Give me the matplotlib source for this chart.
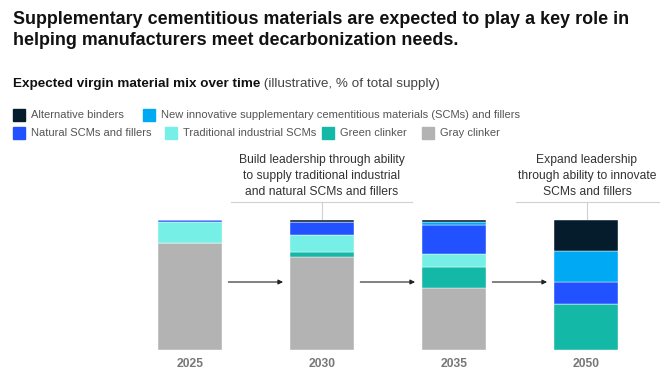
import matplotlib
matplotlib.use("Agg")
import matplotlib.pyplot as plt

# ---- data ----
years = ["2025", "2030", "2035", "2050"]
series_names = ["Gray clinker", "Green clinker", "Traditional industrial SCMs",
                "Natural SCMs and fillers",
                "New innovative supplementary cementitious materials (SCMs) and fillers",
                "Alternative binders"]
gray_clinker = [82, 71.5, 48, 0]
green_clinker = [0, 4, 16, 35.5]
traditional_scms = [16.5, 13, 10, 0]
natural_scms = [1.5, 10, 22, 17]
new_scms = [0, 0, 2.5, 23.5]
alternative_binders = [0, 1.5, 1.5, 24]
series_values = [gray_clinker, green_clinker, traditional_scms, natural_scms,
                 new_scms, alternative_binders]
colors = ["#B3B3B3", "#14B8A6", "#76F0E6", "#2251FF", "#00A9F4", "#051C2C"]

title = ("Supplementary cementitious materials are expected to play a key role in\n"
         "helping manufacturers meet decarbonization needs.")
subtitle_bold = "Expected virgin material mix over time"
subtitle_reg = " (illustrative, % of total supply)"
note1 = "Build leadership through ability\nto supply traditional industrial\nand natural SCMs and fillers"
note2 = "Expand leadership\nthrough ability to innovate\nSCMs and fillers"

plt.rcParams['font.family'] = ['Liberation Sans', 'DejaVu Sans']

W, H = 665, 379
fig = plt.figure(figsize=(W / 100, H / 100), dpi=100)

def fx(x):
    return x / W

def fy(y):
    return 1 - y / H

# axes: x from 124 to 652 px, y from 350 (0) to 220 (100)
ax = fig.add_axes([fx(124), fy(350), (652 - 124) / W, 130 / H])
ax.set_xlim(-0.5, 3.5)
ax.set_ylim(0, 100)
ax.axis("off")

xpos = list(range(len(years)))
bottom = [0] * len(years)
for vals, c in zip(series_values, colors):
    ax.bar(xpos, vals, bottom=bottom, width=0.49, color=c, edgecolor="white",
           linewidth=0.3)
    bottom = [b + v for b, v in zip(bottom, vals)]

# year labels
for i, yr in enumerate(years):
    ax.text(i, -11, yr, ha="center", va="center", fontsize=8.7,
            fontweight="bold", color="#777777", clip_on=False)

# arrows between bars
for i in range(len(years) - 1):
    ax.annotate("", xy=(i + 0.705, 52.3), xytext=(i + 0.29, 52.3),
                arrowprops=dict(arrowstyle="-|>", color="#222222", lw=0.8,
                                mutation_scale=7, shrinkA=0, shrinkB=0),
                annotation_clip=False)

# annotation brackets
def bracket(x0, x1, xc, text):
    fig.add_artist(plt.Line2D([fx(x0), fx(x1)], [fy(202.3), fy(202.3)],
                              color="#D0D0D0", lw=0.8))
    fig.add_artist(plt.Line2D([fx(xc), fx(xc)], [fy(202.3), fy(219)],
                              color="#D0D0D0", lw=0.8))
    fig.text(fx(xc), fy(176), text, ha="center", va="center", fontsize=8.7,
             color="#333333", linespacing=1.42)

bracket(231, 412, 321.5, note1)
bracket(516, 659, 587, note2)

# title and subtitle
fig.text(fx(13), fy(11), title, ha="left", va="top", fontsize=12.9,
         fontweight="bold", color="#111111", linespacing=1.3)
t1 = fig.text(fx(13), fy(87), subtitle_bold, ha="left", va="baseline",
              fontsize=9.7, fontweight="bold", color="#111111")
fig.canvas.draw()
bb = t1.get_window_extent()
fig.text(bb.x1 / W, fy(87), subtitle_reg, ha="left", va="baseline",
         fontsize=9.7, color="#444444")

# legend
legend_items = [
    (13, 115, colors[5], series_names[5]),
    (143, 115, colors[4], series_names[4]),
    (13, 133, colors[3], series_names[3]),
    (165, 133, colors[2], series_names[2]),
    (322, 133, colors[1], series_names[1]),
    (422, 133, colors[0], series_names[0]),
]
for x, y, c, name in legend_items:
    fig.add_artist(plt.Rectangle((fx(x), fy(y + 6)), 12 / W, 12 / H,
                                 color=c, transform=fig.transFigure))
    fig.text(fx(x + 18), fy(y), name, ha="left", va="center", fontsize=8,
             color="#555555")

fig.savefig("out.png", dpi=100)
